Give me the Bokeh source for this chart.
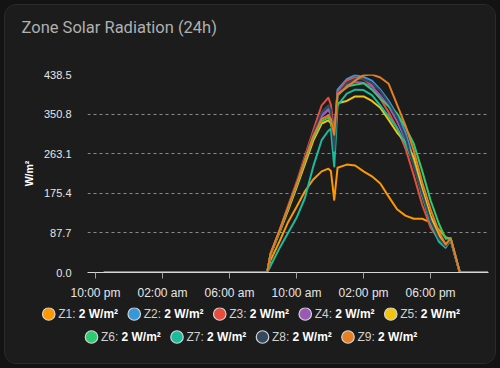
from bokeh.plotting import figure
from bokeh.models import Range1d, FixedTicker, PrintfTickFormatter
from bokeh.layouts import column
from bokeh.embed import file_html
from bokeh.resources import INLINE
from bokeh.core.properties import value

# ---------------- data (hours since 22:00 of the first day) ----------------
hours = [0.5, 10.25, 10.45, 11.0, 11.5, 12.0, 12.5, 13.0, 13.5, 13.9, 14.05, 14.25, 14.45,
         15.0, 15.5, 16.0, 16.5, 17.0, 17.5, 18.0, 18.5, 19.0, 19.5, 20.0, 20.5,
         20.9, 21.2, 21.45, 21.75, 23.4]

z1 = [0, 0, 27, 70, 112, 145, 180, 206, 224, 230, 225, 161, 232,
      239, 237, 224, 213, 197, 168, 140, 126, 119, 119, 111, 95, 78, 75, 40, 0, 0]
z2 = [0, 0, 41, 93, 144, 195, 250, 303, 348, 362, 352, 300, 405,
      428, 437, 433, 425, 405, 380, 350, 310, 250, 185, 125, 82, 60, 74, 40, 0, 0]
z3 = [0, 0, 42, 95, 148, 200, 258, 315, 370, 387, 372, 310, 400,
      425, 432, 428, 415, 385, 355, 320, 275, 215, 150, 100, 72, 56, 72, 38, 0, 0]
z4 = [0, 0, 41, 93, 143, 194, 249, 301, 346, 360, 350, 300, 400,
      415, 422, 420, 412, 392, 368, 335, 295, 245, 180, 120, 80, 60, 73, 40, 0, 0]
z5 = [0, 0, 40, 90, 138, 188, 240, 292, 330, 337, 330, 300, 375,
      380, 390, 390, 380, 365, 338, 310, 288, 255, 185, 125, 85, 62, 74, 40, 0, 0]
z6 = [0, 0, 40, 92, 142, 192, 246, 298, 335, 343, 335, 290, 392,
      412, 416, 419, 405, 385, 368, 352, 322, 285, 225, 160, 108, 75, 76, 42, 0, 0]
z7 = [0, 0, 15, 55, 88, 121, 165, 235, 293, 314, 318, 235, 370,
      396, 405, 404, 393, 370, 345, 320, 285, 240, 170, 110, 68, 55, 72, 38, 0, 0]
z8 = [0, 0, 41, 94, 146, 197, 254, 308, 355, 370, 360, 270, 395,
      420, 428, 428, 420, 402, 375, 345, 300, 235, 175, 115, 75, 58, 73, 40, 0, 0]
z9 = [0, 0, 42, 95, 145, 195, 250, 302, 340, 348, 340, 305, 395,
      410, 425, 437, 438.5, 432, 418, 372, 326, 270, 200, 140, 90, 62, 76, 42, 0, 0]

zone_names = ["Z1", "Z2", "Z3", "Z4", "Z5", "Z6", "Z7", "Z8", "Z9"]
zone_colors = ["#ff9800", "#3498db", "#e74c3c", "#9b59b6", "#f1c40f",
               "#2ecc71", "#1abc9c", "#34495e", "#e67e22"]
zone_series = [z1, z2, z3, z4, z5, z6, z7, z8, z9]
current_values = ["2 W/m²"] * 9

y_ticks = [0.0, 87.7, 175.4, 263.1, 350.8, 438.5]
x_ticks = [0, 4, 8, 12, 16, 20]
x_tick_labels = ["10:00 pm", "02:00 am", "06:00 am", "10:00 am", "02:00 pm", "06:00 pm"]

BG = "#1c1c1c"
FONT = "Liberation Sans"
W = 490


def blank(height):
    f = figure(width=W, height=height, output_backend="svg", toolbar_location=None,
               x_range=Range1d(0, W), y_range=Range1d(height, 0),
               x_axis_type=None, y_axis_type=None,
               min_border_left=0, min_border_right=0, min_border_top=0, min_border_bottom=0)
    f.background_fill_color = BG
    f.border_fill_color = BG
    f.outline_line_color = None
    f.xgrid.grid_line_color = None
    f.ygrid.grid_line_color = None
    f.frame_align = False
    return f


# ---------------- title strip ----------------
TH = 50
tfig = blank(TH)
tfig.text([16], [21.5], text=["Zone Solar Radiation (24h)"], text_font=value("Roboto"),
          text_font_size=value("16.5px"), text_color="#b0b0b0",
          text_baseline="middle", text_align="left")

# ---------------- chart ----------------
PH = 252
p = figure(width=W, height=PH, output_backend="svg", toolbar_location=None,
           x_range=Range1d(-0.478, 23.46), y_range=Range1d(0, 438.5),
           min_border_left=82, min_border_right=7, min_border_top=19, min_border_bottom=35)
p.frame_align = False
p.background_fill_color = BG
p.border_fill_color = BG
p.outline_line_color = None

for name, col, ys in zip(zone_names, zone_colors, zone_series):
    p.line(hours, ys, line_color=col, line_width=2, line_join="round")

p.xgrid.grid_line_color = None
p.ygrid.grid_line_color = "#8a8a8a"
p.ygrid.grid_line_dash = "3 3"
p.ygrid.grid_line_width = 1
p.ygrid.ticker = FixedTicker(ticks=y_ticks)

ya = p.yaxis[0]
ya.ticker = FixedTicker(ticks=y_ticks)
ya.formatter = PrintfTickFormatter(format="%.1f")
ya.axis_line_color = None
ya.major_tick_line_color = None
ya.minor_tick_line_color = None
ya.major_label_standoff = 10
ya.major_label_text_font = FONT
ya.major_label_text_font_size = "11px"
ya.major_label_text_color = "#e6e6e6"
ya.axis_label = "W/m²"
ya.axis_label_text_font = FONT
ya.axis_label_text_font_size = "10.5px"
ya.axis_label_text_font_style = "bold"
ya.axis_label_text_color = "#ffffff"
ya.axis_label_standoff = 6

xa = p.xaxis[0]
xa.ticker = FixedTicker(ticks=x_ticks)
xa.major_label_overrides = {t: l for t, l in zip(x_ticks, x_tick_labels)}
xa.axis_line_color = "#d8d8d8"
xa.axis_line_width = 1
xa.major_tick_line_color = "#a0a0a0"
xa.major_tick_out = 6
xa.major_tick_in = 0
xa.minor_tick_line_color = None
xa.major_label_standoff = 7
xa.major_label_text_font = FONT
xa.major_label_text_font_size = "12px"
xa.major_label_text_color = "#e6e6e6"

# ---------------- legend strip ----------------
LH = 56
leg = blank(LH)
rows = [list(range(0, 5)), list(range(5, 9))]
row_y = [6.5, 29.5]
item_w = 85.5
cx, cy, cols, lab_x, val_x, lab_t, val_t = [], [], [], [], [], [], []
for r, idxs in enumerate(rows):
    start = 245 - len(idxs) * item_w / 2 + 12
    for k, i in enumerate(idxs):
        x0 = start + k * item_w
        cx.append(x0)
        cy.append(row_y[r])
        cols.append(zone_colors[i])
        lab_x.append(x0 + 9.5)
        val_x.append(x0 + 30)
        lab_t.append(zone_names[i] + ":")
        val_t.append(current_values[i])

leg.scatter(cx, cy, size=12.5, fill_color=cols, line_color="#d4d4d4", line_width=1.2)
leg.text(lab_x, cy, text=lab_t, text_font=value(FONT), text_font_size=value("12px"),
         text_baseline="middle", text_align="left", text_color="#d0d0d0")
leg.text(val_x, cy, text=val_t, text_font=value(FONT), text_font_size=value("12px"),
         text_font_style="bold", text_baseline="middle", text_align="left", text_color="#ffffff")

layout = column(tfig, p, leg, spacing=0,
                styles={"margin": "4px", "border": "1px solid #2c2c2c", "border-radius": "12px",
                        "overflow": "hidden", "background-color": BG})
html = file_html(layout, INLINE, title="Zone Solar Radiation (24h)")
html = html.replace("</head>", "<style>body{background:#131313;}</style></head>", 1)
open("out.html", "w").write(html)
